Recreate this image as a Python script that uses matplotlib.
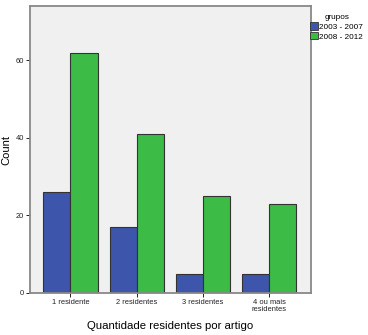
import matplotlib
matplotlib.use("Agg")
import matplotlib.pyplot as plt
import numpy as np

plt.rcParams["font.family"] = ["Liberation Sans", "DejaVu Sans"]

categories = ["1 residente", "2 residentes", "3 residentes", "4 ou mais\nresidentes"]
groups = ["2003 - 2007", "2008 - 2012"]
values_2003_2007 = [26, 17, 5, 5]
values_2008_2012 = [62, 41, 25, 23]
yticks = [0, 20, 40, 60]

colors = ["#3D55AA", "#3CBB46"]
edge = "#333333"

fig = plt.figure(figsize=(3.68, 3.35), dpi=100)
fig.patch.set_facecolor("white")
ax = fig.add_axes([0.0815, 0.1254, 0.7635, 0.8566])
ax.set_facecolor("#F0F0F0")

x = np.arange(len(categories))
w = 0.41
b1 = ax.bar(x - w / 2, values_2003_2007, width=w, color=colors[0], edgecolor=edge, linewidth=0.8, label=groups[0], zorder=2)
b2 = ax.bar(x + w / 2, values_2008_2012, width=w, color=colors[1], edgecolor=edge, linewidth=0.8, label=groups[1], zorder=2)

ax.set_xlim(-0.61, 3.63)
ax.set_ylim(0, 74)
ax.set_yticks(yticks)
ax.set_yticklabels([str(v) for v in yticks], fontsize=5.4, color="#222222")
ax.set_xticks(x)
ax.set_xticklabels(categories, fontsize=5.4, color="#222222", linespacing=0.9)
ax.tick_params(axis="both", length=3, width=0.7, color="#222222", pad=1.5)

for s in ax.spines.values():
    s.set_color("#888888")
    s.set_linewidth(1.3)

ax.set_ylabel("Count", fontsize=8, labelpad=3)
ax.set_xlabel("Quantidade residentes por artigo", fontsize=8.2, labelpad=6)

leg = fig.legend(handles=[b1, b2], labels=groups, loc="upper left",
                 bbox_to_anchor=(0.84, 0.96), frameon=False, fontsize=5.9,
                 title="grupos", title_fontsize=5.9, handlelength=1.0,
                 handleheight=1.0, handletextpad=0.15, labelspacing=0.15,
                 borderpad=0.1, borderaxespad=0)
leg._legend_box.align = "left"
leg.get_title().set_position((15, 0))
for h in leg.legend_handles:
    h.set_linewidth(0.6)

fig.savefig("out.png", dpi=100)
